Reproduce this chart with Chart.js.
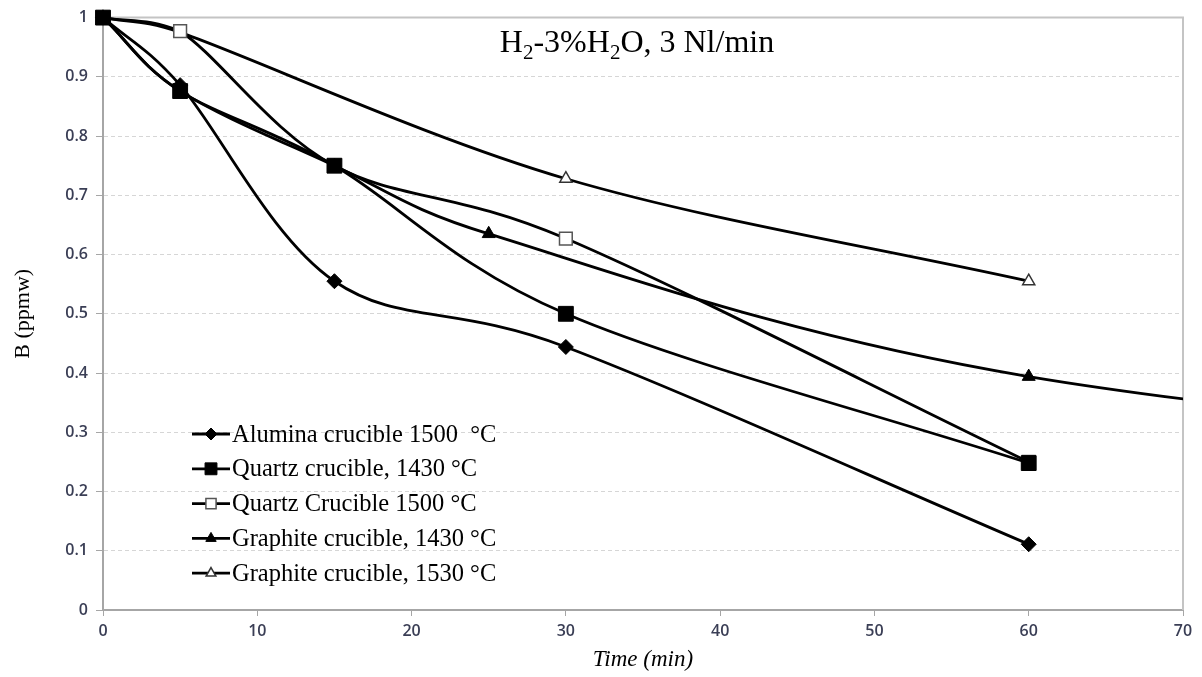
<!DOCTYPE html>
<html>
<head>
<meta charset="utf-8">
<title>Boron removal vs time</title>
<script src="https://cdn.jsdelivr.net/npm/chart.js@4.4.0/dist/chart.umd.min.js"></script>
<style>
  html, body { margin: 0; padding: 0; background: #ffffff; }
  #wrap { width: 1202px; height: 677px; position: relative; }
</style>
</head>
<body>
<div id="wrap"><canvas id="chart" width="1202" height="677"></canvas></div>
<script>
// Boron content (ppmw) against treatment time (min), one series per crucible / temperature
const seriesLabels = [
  'Alumina crucible 1500  \u00B0C',
  'Quartz crucible, 1430 \u00B0C',
  'Quartz Crucible 1500 \u00B0C',
  'Graphite crucible, 1430 \u00B0C',
  'Graphite crucible, 1530 \u00B0C'
];

const aluminaTime = [0, 5, 15, 30, 60];
const aluminaB    = [1, 0.886, 0.555, 0.444, 0.111];

const quartz1430Time = [0, 5, 15, 30, 60];
const quartz1430B    = [1, 0.876, 0.75, 0.5, 0.248];

const quartz1500Time = [0, 5, 15, 30, 60];
const quartz1500B    = [1, 0.977, 0.75, 0.627, 0.25];

// the last reading lies past the end of the time axis
const graphite1430Time = [0, 5, 15, 25, 60, 120];
const graphite1430B    = [1, 0.876, 0.75, 0.635, 0.394, 0.22];

const graphite1530Time = [0, 5, 30, 60];
const graphite1530B    = [1, 0.975, 0.728, 0.555];

const xTickLabels = ['0', '10', '20', '30', '40', '50', '60', '70'];
const yTickLabels = ['0', '0.1', '0.2', '0.3', '0.4', '0.5', '0.6', '0.7', '0.8', '0.9', '1'];

const X_MAX = 70;
const SERIF = '"Liberation Serif", "Times New Roman", serif';
const TICK_FONT = { family: '"Open Sans", "DejaVu Sans", sans-serif', size: 16, weight: '600' };
const TICK_COLOR = '#3a3e55';

function pairs(xs, ys) {
  return xs.map((x, i) => ({ x: x, y: ys[i] }));
}

// Marker look for each series
const markerStyles = [
  { pointStyle: 'rectRot',  radius: 7.5,  fill: '#000000', stroke: '#000000', width: 1 },
  { pointStyle: 'rect',     radius: 10.5, fill: '#000000', stroke: '#000000', width: 1 },
  { pointStyle: 'rect',     radius: 9,    fill: '#ffffff', stroke: '#555555', width: 1.5 },
  { pointStyle: 'triangle', radius: 7.5,  fill: '#000000', stroke: '#000000', width: 1 },
  { pointStyle: 'triangle', radius: 7,    fill: '#ffffff', stroke: '#333333', width: 1.5 }
];

const seriesData = [
  pairs(aluminaTime, aluminaB),
  pairs(quartz1430Time, quartz1430B),
  pairs(quartz1500Time, quartz1500B),
  pairs(graphite1430Time, graphite1430B),
  pairs(graphite1530Time, graphite1530B)
];

const datasets = seriesData.map((data, i) => {
  const m = markerStyles[i];
  return {
    label: seriesLabels[i],
    data: data,
    borderColor: '#000000',
    borderWidth: 2.8,
    tension: 0.4,
    fill: false,
    // markers may overhang the frame; curves stop at the right-hand edge
    clip: { left: false, top: false, right: 0, bottom: false },
    pointStyle: m.pointStyle,
    pointRadius: ctx => (ctx.raw && ctx.raw.x > X_MAX ? 0 : m.radius),
    pointBackgroundColor: m.fill,
    pointBorderColor: m.stroke,
    pointBorderWidth: m.width
  };
});

// Spreadsheet-style smoothing: each Bezier handle is 1/6 of the chord between the
// neighbouring points (1/3 at the ends), never longer than half of its own segment.
const spreadsheetSmoothing = {
  id: 'spreadsheetSmoothing',
  beforeDatasetDraw(chart, args) {
    const meta = args.meta;
    const line = meta.dataset;
    const pts = meta.data;
    if (!line || !pts || pts.length < 2) return;
    if (typeof line.updateControlPoints === 'function') {
      line.updateControlPoints(chart.chartArea, 'x');
    }
    const area = chart.chartArea;
    const capY = v => Math.max(area.top, Math.min(area.bottom, v));
    const n = pts.length;
    for (let i = 0; i < n - 1; i++) {
      const p1 = pts[i], p2 = pts[i + 1];
      const p0 = i > 0 ? pts[i - 1] : p1;
      const p3 = i + 2 < n ? pts[i + 2] : p2;
      const half = Math.hypot(p2.x - p1.x, p2.y - p1.y) / 2;
      const f0 = p0 === p1 ? 1 / 3 : 1 / 6;
      const f1 = p3 === p2 ? 1 / 3 : 1 / 6;
      const limit = (vx, vy) => {
        const l = Math.hypot(vx, vy);
        return l > half && l > 0 ? [vx * half / l, vy * half / l] : [vx, vy];
      };
      const v0 = limit((p2.x - p0.x) * f0, (p2.y - p0.y) * f0);
      const v1 = limit((p3.x - p1.x) * f1, (p3.y - p1.y) * f1);
      p1.cp2x = p1.x + v0[0];
      p1.cp2y = capY(p1.y + v0[1]);
      p2.cp1x = p2.x - v1[0];
      p2.cp1y = capY(p2.y - v1[1]);
    }
    line._path = undefined;
  }
};

function drawMarker(ctx, m, x, y, scale) {
  ctx.save();
  ctx.fillStyle = m.fill;
  ctx.strokeStyle = m.stroke;
  ctx.lineWidth = m.width;
  const opts = { pointStyle: m.pointStyle, radius: m.radius * scale, rotation: 0, borderWidth: m.width };
  if (Chart.helpers && Chart.helpers.drawPoint) {
    Chart.helpers.drawPoint(ctx, opts, x, y);
  } else {
    const r = opts.radius;
    ctx.beginPath();
    if (m.pointStyle === 'rect') {
      const s = r * Math.SQRT1_2;
      ctx.rect(x - s, y - s, 2 * s, 2 * s);
    } else if (m.pointStyle === 'rectRot') {
      ctx.moveTo(x - r, y); ctx.lineTo(x, y - r); ctx.lineTo(x + r, y); ctx.lineTo(x, y + r);
      ctx.closePath();
    } else {
      ctx.moveTo(x, y - r);
      ctx.lineTo(x + r * Math.sin(Math.PI * 2 / 3), y - r * Math.cos(Math.PI * 2 / 3));
      ctx.lineTo(x + r * Math.sin(Math.PI * 4 / 3), y - r * Math.cos(Math.PI * 4 / 3));
      ctx.closePath();
    }
    ctx.fill();
    ctx.stroke();
  }
  ctx.restore();
}

// Frame lines, in-plot heading and the legend box drawn inside the plot area
const decorations = {
  id: 'decorations',
  beforeDatasetsDraw(chart) {
    const { ctx, chartArea: a } = chart;
    ctx.save();
    ctx.strokeStyle = '#c4c4c4';
    ctx.lineWidth = 2;
    ctx.beginPath();
    ctx.moveTo(a.left, a.top);
    ctx.lineTo(a.right, a.top);
    ctx.lineTo(a.right, a.bottom);
    ctx.stroke();
    ctx.restore();
  },
  afterDraw(chart) {
    const { ctx } = chart;
    ctx.save();

    // Heading with subscripts: H2-3%H2O, 3 Nl/min
    const parts = [['H', 0], ['2', 1], ['-3%H', 0], ['2', 1], ['O, 3 Nl/min', 0]];
    const big = '32px ' + SERIF;
    const small = '21px ' + SERIF;
    let total = 0;
    parts.forEach(p => { ctx.font = p[1] ? small : big; total += ctx.measureText(p[0]).width; });
    let x = 637 - total / 2;
    const base = 52;
    ctx.fillStyle = '#000000';
    ctx.textBaseline = 'alphabetic';
    ctx.textAlign = 'left';
    parts.forEach(p => {
      ctx.font = p[1] ? small : big;
      ctx.fillText(p[0], x, base + (p[1] ? 7 : 0));
      x += ctx.measureText(p[0]).width;
    });

    // Legend
    const lx0 = 192, lx1 = 230, tx = 232, y0 = 434, step = 34.8;
    chart.data.datasets.forEach((ds, i) => {
      const y = y0 + i * step;
      ctx.strokeStyle = '#000000';
      ctx.lineWidth = 2.8;
      ctx.beginPath();
      ctx.moveTo(lx0, y);
      ctx.lineTo(lx1, y);
      ctx.stroke();
      drawMarker(ctx, markerStyles[i], (lx0 + lx1) / 2, y, 0.8);
      ctx.font = '24.5px ' + SERIF;
      ctx.fillStyle = '#000000';
      ctx.textBaseline = 'alphabetic';
      ctx.fillText(ds.label, tx, y + 7.5);
    });
    ctx.restore();
  }
};

new Chart(document.getElementById('chart'), {
  type: 'line',
  data: { datasets: datasets },
  plugins: [spreadsheetSmoothing, decorations],
  options: {
    responsive: false,
    devicePixelRatio: 1,
    animation: false,
    events: [],
    layout: { padding: { left: 0, right: 19, top: 14, bottom: 0 } },
    plugins: {
      legend: { display: false },
      tooltip: { enabled: false }
    },
    scales: {
      x: {
        type: 'linear',
        min: 0,
        max: X_MAX,
        afterFit: s => { s.height = 67; },
        ticks: {
          stepSize: 10,
          padding: 6,
          color: TICK_COLOR,
          font: TICK_FONT,
          callback: (v) => xTickLabels[Math.round(v / 10)]
        },
        grid: { drawOnChartArea: false, drawTicks: true, tickLength: 6, tickColor: '#a6a6a6', tickWidth: 1 },
        border: { color: '#a6a6a6', width: 2 },
        title: {
          display: true,
          text: 'Time (min)',
          color: '#000000',
          font: { family: SERIF, size: 23, style: 'italic' },
          padding: { top: 0, bottom: 3 }
        }
      },
      y: {
        min: 0,
        max: 1,
        afterFit: s => { s.width = 103; },
        ticks: {
          stepSize: 0.1,
          padding: 8,
          color: TICK_COLOR,
          font: TICK_FONT,
          callback: (v) => yTickLabels[Math.round(v * 10)]
        },
        grid: { color: '#d6d6d6', lineWidth: 1, drawTicks: true, tickLength: 7, tickColor: '#a6a6a6', tickWidth: 1 },
        border: { color: '#a6a6a6', width: 2, dash: [4, 3] },
        title: {
          display: true,
          text: 'B (ppmw)',
          color: '#000000',
          font: { family: SERIF, size: 22 },
          padding: { top: 10, bottom: 0 }
        }
      }
    }
  }
});
</script>
</body>
</html>
